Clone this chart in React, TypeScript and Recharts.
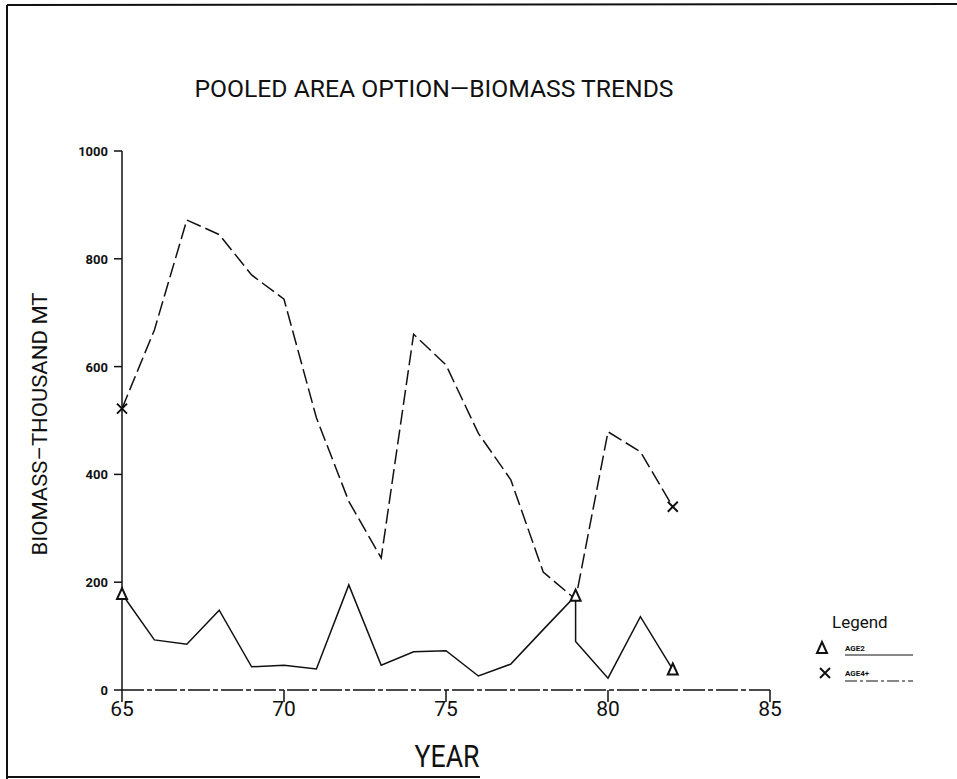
import { LineChart, Line, XAxis, YAxis, Legend } from "recharts";

const YEAR_TICKS = [65, 70, 75, 80, 85];
const BIOMASS_TICKS = [0, 200, 400, 600, 800, 1000];

// AGE2: the pen drops straight down at 79, so that year is listed twice
const age2Years = [65, 66, 67, 68, 69, 70, 71, 72, 73, 74, 75, 76, 77, 78, 79, 79, 80, 81, 82];
const age2Biomass = [178, 93, 85, 148, 43, 46, 39, 195, 46, 71, 73, 26, 48, 112, 175, 90, 22, 136, 38];
const age2Markers = [0, 14, 18];

const age4Years = [65, 66, 67, 68, 69, 70, 71, 72, 73, 74, 75, 76, 77, 78, 79, 80, 81, 82];
const age4Biomass = [522, 668, 872, 845, 770, 725, 505, 350, 245, 660, 603, 476, 390, 219, 168, 479, 442, 340];
const age4Markers = [0, 17];

const age2Data = age2Years.map((year, i) => ({ year, biomass: age2Biomass[i] }));
const age4Data = age4Years.map((year, i) => ({ year, biomass: age4Biomass[i] }));

const INK = "#111";
const FONT = "Roboto, 'Liberation Sans', sans-serif";

const triangle = (cx: number, cy: number, key: string) => (
  <path
    key={key}
    d={`M${cx},${cy - 6} L${cx + 5},${cy + 5} L${cx - 5},${cy + 5} Z`}
    fill="white"
    stroke={INK}
    strokeWidth={2}
  />
);

const cross = (cx: number, cy: number, key: string) => (
  <path
    key={key}
    d={`M${cx - 5},${cy - 5} L${cx + 5},${cy + 5} M${cx + 5},${cy - 5} L${cx - 5},${cy + 5}`}
    stroke={INK}
    strokeWidth={2}
  />
);

const age2Dot = (p: any) =>
  age2Markers.includes(p.index) ? triangle(p.cx, p.cy, `a2-${p.index}`) : <g key={`a2-${p.index}`} />;

const age4Dot = (p: any) =>
  age4Markers.includes(p.index) ? cross(p.cx, p.cy, `a4-${p.index}`) : <g key={`a4-${p.index}`} />;

const YearTick = ({ x, y, payload }: any) => (
  <text x={x} y={y + 12} textAnchor="middle" fontFamily={FONT} fontSize={21} fill={INK}>
    {payload.value}
  </text>
);

const BiomassTick = ({ x, y, payload }: any) => (
  <text x={x - 4} y={y + 5} textAnchor="end" fontFamily={FONT} fontSize={13} fontWeight={700} fill={INK}>
    {payload.value}
  </text>
);

const renderLegend = () => (
  <svg width={130} height={90} style={{ overflow: "visible" }}>
    <text x={20} y={24} fontFamily={FONT} fontSize={17} fill={INK}>
      Legend
    </text>
    {triangle(10, 44, "lg-t")}
    <text x={33} y={47} fontFamily={FONT} fontSize={8} fontWeight={700} fill={INK}>
      AGE2
    </text>
    <line x1={33} x2={101} y1={51} y2={51} stroke={INK} strokeWidth={1.2} />
    {cross(13, 69, "lg-x")}
    <text x={33} y={72} fontFamily={FONT} fontSize={8} fontWeight={700} fill={INK}>
      AGE4+
    </text>
    <line x1={33} x2={101} y1={77} y2={77} stroke={INK} strokeWidth={1.2} strokeDasharray="12 3 3 3" />
  </svg>
);

export default function App() {
  return (
    <div style={{ position: "absolute", left: 0, top: 0, width: 957, height: 779, background: "white" }}>
      <LineChart width={957} height={779} margin={{ top: 151, right: 187, bottom: 59, left: 0 }}>
        <XAxis
          dataKey="year"
          type="number"
          domain={[65, 85]}
          ticks={YEAR_TICKS}
          height={30}
          tickSize={12}
          tick={<YearTick />}
          axisLine={{ stroke: INK, strokeWidth: 1.5, strokeDasharray: "22 3 5 3" }}
          tickLine={{ stroke: INK, strokeWidth: 1.5 }}
          allowDuplicatedCategory
        />
        <YAxis
          type="number"
          domain={[0, 1000]}
          ticks={BIOMASS_TICKS}
          width={122}
          tickSize={8}
          tick={<BiomassTick />}
          axisLine={{ stroke: INK, strokeWidth: 1.5 }}
          tickLine={{ stroke: INK, strokeWidth: 1.5 }}
        />
        <Legend
          layout="vertical"
          align="center"
          verticalAlign="middle"
          wrapperStyle={{ left: 812, top: 604, width: 130, height: 90 }}
          content={renderLegend}
        />
        <Line
          data={age2Data}
          dataKey="biomass"
          name="AGE2"
          stroke={INK}
          strokeWidth={1.5}
          dot={age2Dot}
          activeDot={false}
          isAnimationActive={false}
        />
        <Line
          data={age4Data}
          dataKey="biomass"
          name="AGE4+"
          stroke={INK}
          strokeWidth={1.5}
          strokeDasharray="15 5"
          dot={age4Dot}
          activeDot={false}
          isAnimationActive={false}
        />
      </LineChart>
      <svg
        width={957}
        height={779}
        style={{ position: "absolute", left: 0, top: 0, pointerEvents: "none" }}
      >
        {/* page frame */}
        <line x1={7} y1={5} x2={957} y2={4} stroke={INK} strokeWidth={2} />
        <line x1={7} y1={5} x2={7} y2={779} stroke={INK} strokeWidth={2} />
        <line x1={7} y1={777} x2={480} y2={777} stroke={INK} strokeWidth={2} />
        <text
          x={434}
          y={97}
          textAnchor="middle"
          fontFamily={FONT}
          fontSize={24}
          textLength={479}
          lengthAdjust="spacingAndGlyphs"
          fill={INK}
        >
          POOLED AREA OPTION—BIOMASS TRENDS
        </text>
        <text
          x={40}
          y={424}
          transform="rotate(-90 40 424)"
          textAnchor="middle"
          dominantBaseline="central"
          fontFamily={FONT}
          fontSize={20}
          textLength={263}
          lengthAdjust="spacingAndGlyphs"
          fill={INK}
        >
          BIOMASS–THOUSAND MT
        </text>
        <text
          x={447}
          y={767}
          textAnchor="middle"
          fontFamily={FONT}
          fontSize={32}
          textLength={65}
          lengthAdjust="spacingAndGlyphs"
          fill={INK}
        >
          YEAR
        </text>
      </svg>
    </div>
  );
}
